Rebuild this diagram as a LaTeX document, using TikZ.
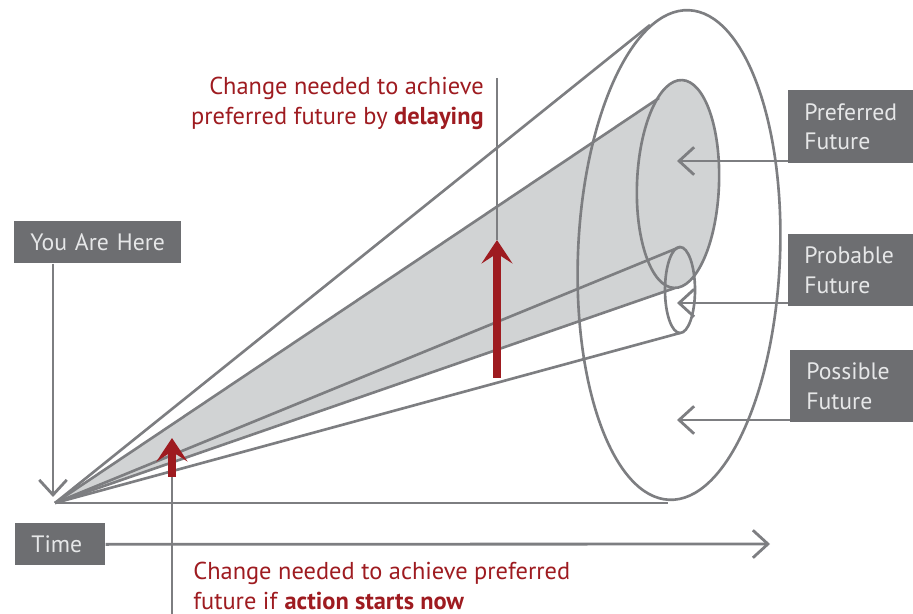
\documentclass[tikz,border=0pt]{standalone}
\usepackage{fontspec}
\setmainfont{PT Sans}
\usetikzlibrary{arrows.meta}
\definecolor{linegray}{HTML}{7D7E81}
\definecolor{boxgray}{HTML}{6D6E71}
\definecolor{boxtext}{HTML}{E6E7E8}
\definecolor{conegray}{HTML}{D1D3D4}
\definecolor{darkred}{HTML}{9E1B20}
\tikzset{
  tag/.style={fill=boxgray, text=boxtext, inner xsep=0.32cm, inner ysep=0pt, align=left, anchor=north west, font=\fontsize{13.5pt}{16.8pt}\selectfont},
  garrow/.style={draw=linegray, line width=1.6pt, -{Straight Barb[length=0.3cm,width=0.55cm]}},
  redarrow/.style={draw=darkred, line width=0.16cm, -{Stealth[length=0.47cm,width=0.62cm,inset=0.2cm]}},
  note/.style={text=darkred, inner sep=0pt, font=\fontsize{13.9pt}{16.8pt}\selectfont},
  cone/.style={draw=linegray, line width=1.5pt}
}
\begin{document}
\begin{tikzpicture}[x=0.02cm,y=-0.02cm]
\useasboundingbox (0,0) rectangle (913,614);
\coordinate (apex) at (55,503);
% cone of the preferred future
\fill[conegray] (apex) -- (659,98) -- (675,288) -- cycle;
\fill[conegray, rotate around={-2.2:(678,184)}] (678,184) ellipse [x radius=41, y radius=104];
\draw[cone] (apex) -- (650,25);
\draw[cone] (apex) -- (668,503);
\draw[cone] (apex) -- (659,98);
\draw[cone] (apex) -- (675,288);
\draw[cone] (apex) -- (680,247);
\draw[cone] (apex) -- (680,333);
\draw[cone, rotate around={-2.3:(679,255)}] (679,255) ellipse [x radius=101, y radius=245];
\draw[cone, rotate around={-2.2:(678,184)}] (678,184) ellipse [x radius=41, y radius=104];
\draw[cone] (680,290) ellipse [x radius=15, y radius=43];

% labels
\node[tag, text width=2.7cm, minimum height=0.84cm] (here) at (14,221) {You Are Here};
\node[tag, text width=1.16cm, minimum height=0.84cm] (time) at (15,523) {Time};
\node[tag, text width=1.86cm, minimum height=1.46cm] (pref) at (788,90) {Preferred\\Future};
\node[tag, text width=1.86cm, minimum height=1.44cm] (prob) at (788,234) {Probable\\Future};
\node[tag, text width=1.82cm, minimum height=1.44cm] (poss) at (790,350) {Possible\\Future};

\coordinate (herept) at (53,497);
\coordinate (timept) at (770,544);
\coordinate (prefpt) at (677,161);
\coordinate (probpt) at (677,303);
\coordinate (posspt) at (677,420);
\draw[garrow] (here.south -| herept) -- (herept);
\draw[garrow] (time.east) -- (timept);
\draw[garrow] (pref.west |- prefpt) -- (prefpt);
\draw[garrow] (prob.west |- probpt) -- (probpt);
\draw[garrow] (poss.west |- posspt) -- (posspt);

% change arrows
\coordinate (latetop) at (497,78);
\coordinate (latetip) at (497,240);
\coordinate (latebase) at (497,378);
\coordinate (nowtip) at (172,438);
\coordinate (nowbase) at (172,477);
\coordinate (nowend) at (172,614);
\draw[cone] (latetop) -- (latetip);
\draw[redarrow] (latebase) -- (latetip);
\draw[cone] (nowbase) -- (nowend);
\draw[redarrow] (nowbase) -- (nowtip);
\node[note, align=right, anchor=north east] (late) at (484,77) {Change needed to achieve\\preferred future by \textbf{delaying}};
\node[note, align=left, anchor=north west] (now) at (193,562) {Change needed to achieve preferred\\future if \textbf{action starts now}};
\end{tikzpicture}
\end{document}
